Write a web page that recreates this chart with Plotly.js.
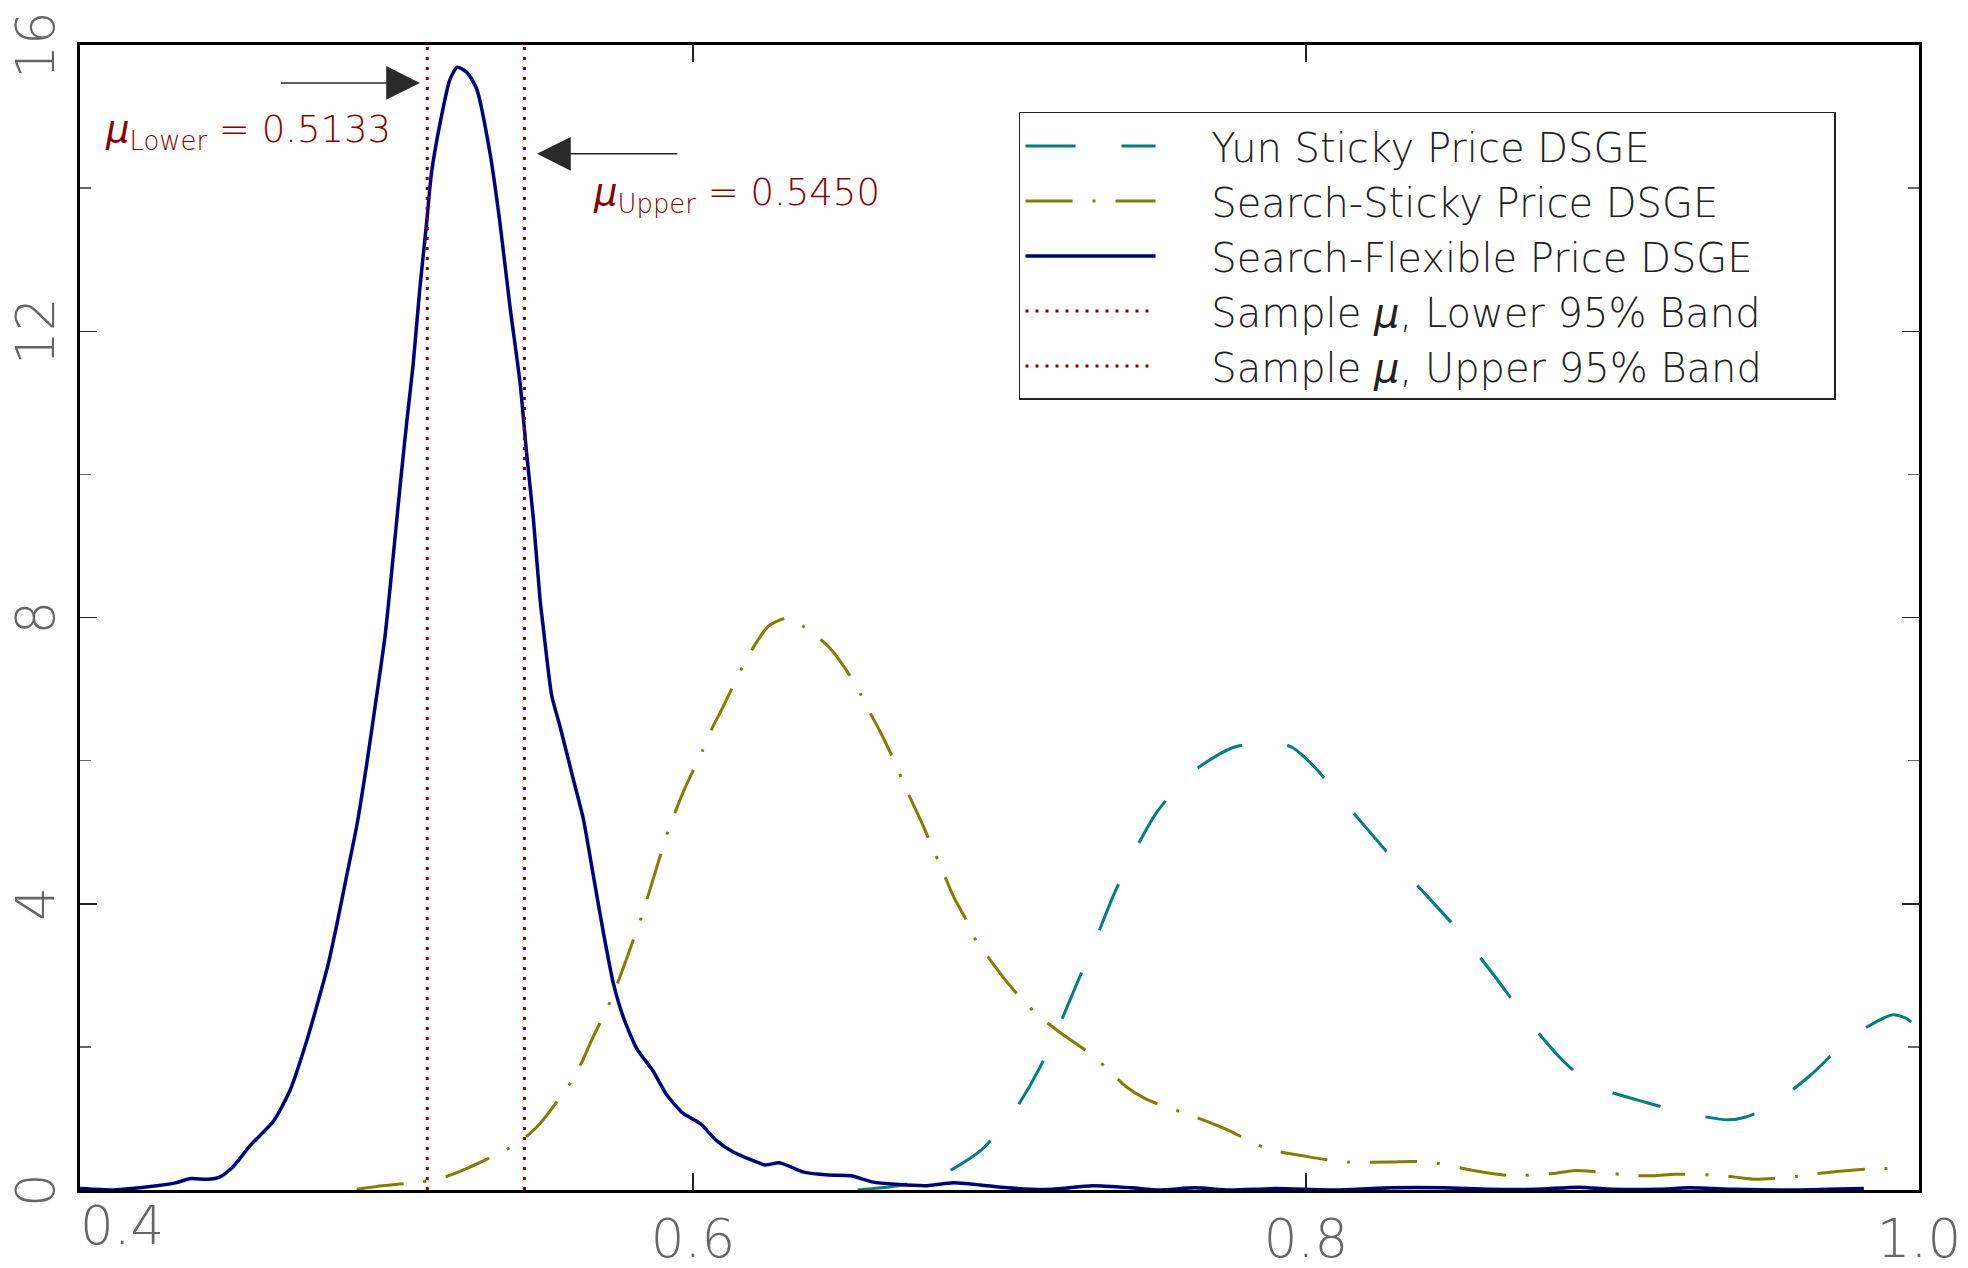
<!DOCTYPE html>
<html>
<head>
<meta charset="utf-8">
<script src="https://cdn.plot.ly/plotly-3.0.1.min.js"></script>
<style>
  html, body { margin: 0; padding: 0; background: #ffffff; }
  #chart { width: 1968px; height: 1268px; }
</style>
</head>
<body>
<div id="chart"></div>
<script>
// ---------- data ----------
const seriesNames = [
  'Yun Sticky Price DSGE',
  'Search-Sticky Price DSGE',
  'Search-Flexible Price DSGE',
  'Sample <i>μ</i>, Lower 95% Band',
  'Sample <i>μ</i>, Upper 95% Band'
];

const yunX = [0.6537,0.6668,0.6807,0.6941,0.7054,0.7134,0.7197,0.7255,0.7312,0.7370,0.7433,0.7510,0.7622,0.7760,0.7892,0.7957,0.8030,0.8145,0.8265,0.8386,0.8509,0.8615,0.8722,0.8835,0.8901,0.8972,0.9104,0.9244,0.9375,0.9436,0.9512,0.9645,0.9782,0.9914,0.9958,1.0000];
const yunY = [0.00,0.06,0.20,0.56,1.14,1.73,2.32,2.91,3.48,4.10,4.67,5.26,5.82,6.18,6.27,6.18,5.90,5.32,4.72,4.15,3.57,2.99,2.38,1.82,1.57,1.40,1.23,1.07,0.98,1.02,1.16,1.60,2.15,2.45,2.40,2.25];

const stickyX = [0.4903,0.4968,0.5109,0.5175,0.5240,0.5376,0.5441,0.5501,0.5604,0.5640,0.5669,0.5735,0.5760,0.5784,0.5833,0.5874,0.5918,0.5969,0.6032,0.6061,0.6093,0.6163,0.6198,0.6246,0.6304,0.6380,0.6447,0.6498,0.6537,0.6574,0.6610,0.6642,0.6702,0.6734,0.6763,0.6821,0.6850,0.6887,0.6923,0.6967,0.7018,0.7076,0.7134,0.7211,0.7275,0.7343,0.7411,0.7474,0.7542,0.7608,0.7739,0.7809,0.7877,0.8001,0.8072,0.8138,0.8271,0.8340,0.8403,0.8537,0.8605,0.8667,0.8804,0.8870,0.8935,0.9072,0.9138,0.9203,0.9333,0.9402,0.9468,0.9601,0.9667,0.9732,0.9869,0.9934];
const stickyY = [0.01,0.05,0.11,0.16,0.26,0.53,0.69,0.93,1.52,1.81,2.09,2.68,2.96,3.24,3.83,4.40,5.01,5.57,6.15,6.44,6.71,7.32,7.59,7.88,7.99,7.82,7.57,7.28,7.01,6.70,6.41,6.13,5.54,5.25,4.97,4.39,4.10,3.81,3.49,3.23,2.94,2.65,2.41,2.16,1.97,1.73,1.45,1.28,1.16,1.07,0.85,0.70,0.57,0.47,0.42,0.39,0.39,0.40,0.39,0.28,0.23,0.20,0.23,0.27,0.26,0.20,0.20,0.22,0.21,0.18,0.15,0.19,0.23,0.26,0.30,0.30];

const flexX = [0.4000,0.4110,0.4169,0.4250,0.4312,0.4361,0.4414,0.4455,0.4496,0.4555,0.4631,0.4685,0.4740,0.4783,0.4810,0.4837,0.4870,0.4903,0.4935,0.4968,0.4995,0.5022,0.5044,0.5066,0.5087,0.5109,0.5131,0.5147,0.5180,0.5207,0.5231,0.5262,0.5294,0.5338,0.5370,0.5403,0.5436,0.5457,0.5479,0.5501,0.5512,0.5539,0.5566,0.5610,0.5642,0.5675,0.5708,0.5740,0.5773,0.5816,0.5870,0.5914,0.5968,0.6023,0.6077,0.6131,0.6173,0.6236,0.6282,0.6362,0.6442,0.6515,0.6588,0.6661,0.6763,0.6850,0.6938,0.7025,0.7171,0.7302,0.7433,0.7520,0.7637,0.7750,0.7900,0.8100,0.8280,0.8450,0.8600,0.8750,0.8890,0.9000,0.9150,0.9250,0.9400,0.9600,0.9820];
const flexY = [0.02,0.00,0.02,0.06,0.10,0.16,0.15,0.18,0.31,0.62,0.96,1.39,2.09,2.73,3.16,3.69,4.39,5.09,5.94,6.91,7.73,8.86,9.82,10.73,11.54,12.61,13.52,14.22,15.02,15.52,15.69,15.62,15.39,14.48,13.52,12.34,11.27,10.30,9.39,8.25,7.84,6.91,6.48,5.73,5.19,4.39,3.59,2.89,2.41,1.98,1.66,1.33,1.07,0.93,0.69,0.53,0.45,0.35,0.38,0.25,0.21,0.20,0.11,0.08,0.06,0.10,0.07,0.03,0.01,0.06,0.03,0.00,0.03,0.00,0.02,0.00,0.03,0.03,0.01,0.01,0.04,0.01,0.01,0.03,0.01,0.00,0.02];

const lowerBand = 0.5133;
const upperBand = 0.5450;

const xTickVals = [0.6, 0.8, 1.0];
const xTickText = ['0.6', '0.8', '1.0'];
const xFirstTickVal = [0.4];
const xFirstTickText = ['0.4'];
const yTickVals = [0, 4, 8, 12, 16];
const yTickText = ['0', '4', '8', '12', '16'];
const yMinorTickVals = [2, 6, 10, 14];
const xRange = [0.4, 1.0];
const yRange = [0, 16];

// ---------- styles ----------
const TEAL = '#008080', OLIVE = '#808000', NAVY = '#000080', DARKRED = '#8b0000';
const FONT = 'DejaVu Sans, Liberation Sans, sans-serif';
const PAD = '\u00a0\u00a0\u00a0\u00a0';
const TAIL = '\u00a0\u00a0\u00a0\u00a0\u00a0\u00a0';

const traces = [
  { x: yunX, y: yunY, name: PAD + seriesNames[0], mode: 'lines',
    line: { color: TEAL, width: 3, dash: '50px,46px', shape: 'spline', smoothing: 0.6 } },
  { x: stickyX, y: stickyY, name: PAD + seriesNames[1], mode: 'lines',
    line: { color: OLIVE, width: 3, dash: '47px,20px,3px,20px', shape: 'spline', smoothing: 0.6 } },
  { x: flexX, y: flexY, name: PAD + seriesNames[2] + TAIL, mode: 'lines',
    line: { color: NAVY, width: 3.5, shape: 'spline', smoothing: 0.6 } },
  { x: [lowerBand, lowerBand], y: yRange, name: PAD + seriesNames[3], mode: 'lines',
    line: { color: DARKRED, width: 3, dash: '3px,7px' } },
  { x: [upperBand, upperBand], y: yRange, name: PAD + seriesNames[4], mode: 'lines',
    line: { color: DARKRED, width: 3, dash: '3px,7px' } },
  // empty helper trace so the overlaying axis that carries the first tick label is drawn
  { x: [], y: [], xaxis: 'x2', yaxis: 'y', mode: 'lines', showlegend: false, hoverinfo: 'skip' }
];

const tickFont = { family: FONT, size: 53, color: '#666', weight: 200 };

const axisCommon = {
  showline: true, linecolor: '#000', linewidth: 3, mirror: 'ticks',
  ticks: 'inside', ticklen: 17, tickwidth: 1.5, tickcolor: '#222',
  showgrid: false, zeroline: false, fixedrange: true,
  tickfont: tickFont
};

const layout = {
  width: 1968, height: 1268,
  margin: { l: 80, r: 49, t: 45, b: 78, pad: 0 },
  paper_bgcolor: '#fff', plot_bgcolor: '#fff',
  font: { family: FONT, weight: 200 },
  showlegend: true,
  legend: {
    x: 0.5106, y: 0.9415, xanchor: 'left', yanchor: 'top',
    bgcolor: '#fff', bordercolor: '#222', borderwidth: 1.5,
    font: { family: FONT, size: 40, color: '#222', weight: 200 },
    itemwidth: 130, tracegroupgap: 0
  },
  xaxis: Object.assign({}, axisCommon, {
    range: xRange, tickmode: 'array', tickvals: xTickVals, ticktext: xTickText,
    ticklabelstandoff: 0
  }),
  xaxis2: {
    overlaying: 'x', anchor: 'y', side: 'bottom', range: xRange,
    tickmode: 'array', tickvals: xFirstTickVal, ticktext: xFirstTickText,
    ticks: '', showline: false, showgrid: false, zeroline: false, fixedrange: true,
    ticklabelposition: 'outside right', ticklabelstandoff: 0, tickfont: tickFont
  },
  yaxis: Object.assign({}, axisCommon, {
    range: yRange, tickmode: 'array', tickvals: yTickVals, ticktext: yTickText,
    tickangle: -90, ticklabelstandoff: 2, ticklabelshift: 8, ticklabeloverflow: 'allow',
    minor: { tickvals: yMinorTickVals, ticks: 'inside', ticklen: 11, tickwidth: 1.5, tickcolor: '#666' }
  }),
  annotations: [
    { xref: 'x', yref: 'y', axref: 'x', ayref: 'y',
      x: lowerBand - 0.0024, y: 15.47, ax: 0.465, ay: 15.47,
      text: '', showarrow: true, arrowhead: 2, arrowsize: 4.5, arrowwidth: 1.5, arrowcolor: '#2a2a2a' },
    { xref: 'x', yref: 'y', axref: 'x', ayref: 'y',
      x: upperBand + 0.0041, y: 14.48, ax: 0.5954, ay: 14.48,
      text: '', showarrow: true, arrowhead: 2, arrowsize: 4.5, arrowwidth: 1.5, arrowcolor: '#2a2a2a' },
    { xref: 'x', yref: 'y', x: 0.4075, y: 14.78, xanchor: 'left', yanchor: 'middle',
      text: '<i>μ</i><sub>Lower</sub> = 0.5133', showarrow: false,
      font: { family: FONT, size: 37, color: DARKRED, weight: 200 } },
    { xref: 'x', yref: 'y', x: 0.5667, y: 13.90, xanchor: 'left', yanchor: 'middle',
      text: '<i>μ</i><sub>Upper</sub> = 0.5450', showarrow: false,
      font: { family: FONT, size: 37, color: DARKRED, weight: 200 } }
  ]
};

Plotly.newPlot('chart', traces, layout, { staticPlot: true, displayModeBar: false });
</script>
</body>
</html>
